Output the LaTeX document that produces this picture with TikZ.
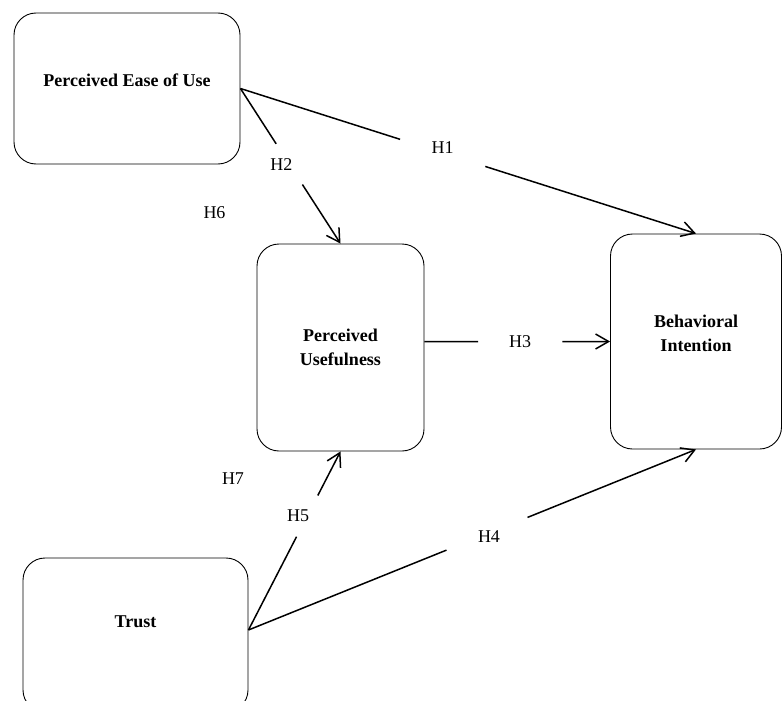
\documentclass[tikz,border=0pt]{standalone}
\usepackage{fontspec}
\setmainfont{Liberation Serif}
\usetikzlibrary{calc,positioning,arrows.meta}
\tikzset{>={Straight Barb[length=13pt,width=15pt]}}
\tikzset{
  box/.style={draw, rounded corners=22pt, line width=0.9pt, inner sep=0pt},
  title/.style={font=\fontsize{18}{24}\selectfont\bfseries, align=center},
  hyp/.style={font=\fontsize{18}{22}\selectfont},
  gap/.style={circle, inner sep=0pt},
  link/.style={line width=1.5pt}
}

\begin{document}
\begin{tikzpicture}[x=1pt,y=-1pt]
            \useasboundingbox (0,0) rectangle (782,701);

            \node [box,
              minimum width=226pt, minimum height=151pt
            ] (peou) at (127,88.5) {};
            \node [title] (peoutext) at ([yshift=8.5pt]peou.center) {Perceived Ease of Use};

            \node [box,
              minimum width=167pt, minimum height=207pt
            ] (pu) at (340.5,347.5) {};
            \node [title] (putext) at (pu.center) {Perceived\\Usefulness};

            \node [box,
              minimum width=171pt, minimum height=215pt
            ] (bi) at (696,341.5) {};
            \node [title] (bitext) at ([yshift=8.5pt]bi.center) {Behavioral\\Intention};

            \node [box,
              minimum width=225pt, minimum height=154pt
            ] (trust) at (135.5,635) {};
            \node [title] (trusttext) at ([yshift=13.5pt]trust.center) {Trust};

            \coordinate (pu3) at (pu.east |- bi.west);
            \coordinate (tr) at ([yshift=5pt]trust.east);

            \node [gap, minimum size=89pt,
              label={[hyp, yshift=5pt]center:H1}
            ] (h1) at ($(peou.east)!0.444!(bi.north)$) {};
            \node [gap, minimum size=48pt,
              label={[hyp, xshift=-8pt]center:H2}
            ] (h2) at ($(peou.east)!0.488!(pu.north)$) {};
            \node [gap, minimum size=84pt,
              label={[hyp]center:H3}
            ] (h3) at ($(pu3)!0.516!(bi.west)$) {};
            \node [gap, minimum size=87pt,
              label={[hyp, xshift=2pt, yshift=-3pt]center:H4}
            ] (h4) at ($(tr)!0.533!(bi.south)$) {};
            \node [gap, minimum size=46pt,
              label={[hyp, xshift=-9pt]center:H5}
            ] (h5) at ($(tr)!0.638!(pu.south)$) {};

            \node [hyp] (h6) at (214.5,213) {H6};
            \node [hyp] (h7) at (233,479) {H7};

            \draw[link] (peou.east) -- (h1);
            \draw[link,->] (h1) -- (bi.north);
            \draw[link] (peou.east) -- (h2);
            \draw[link,->] (h2) -- (pu.north);
            \draw[link] (pu3) -- (h3);
            \draw[link,->] (h3) -- (bi.west);
            \draw[link] (tr) -- (h4);
            \draw[link,->] (h4) -- (bi.south);
            \draw[link] (tr) -- (h5);
            \draw[link,->] (h5) -- (pu.south);
          \end{tikzpicture}
\end{document}
